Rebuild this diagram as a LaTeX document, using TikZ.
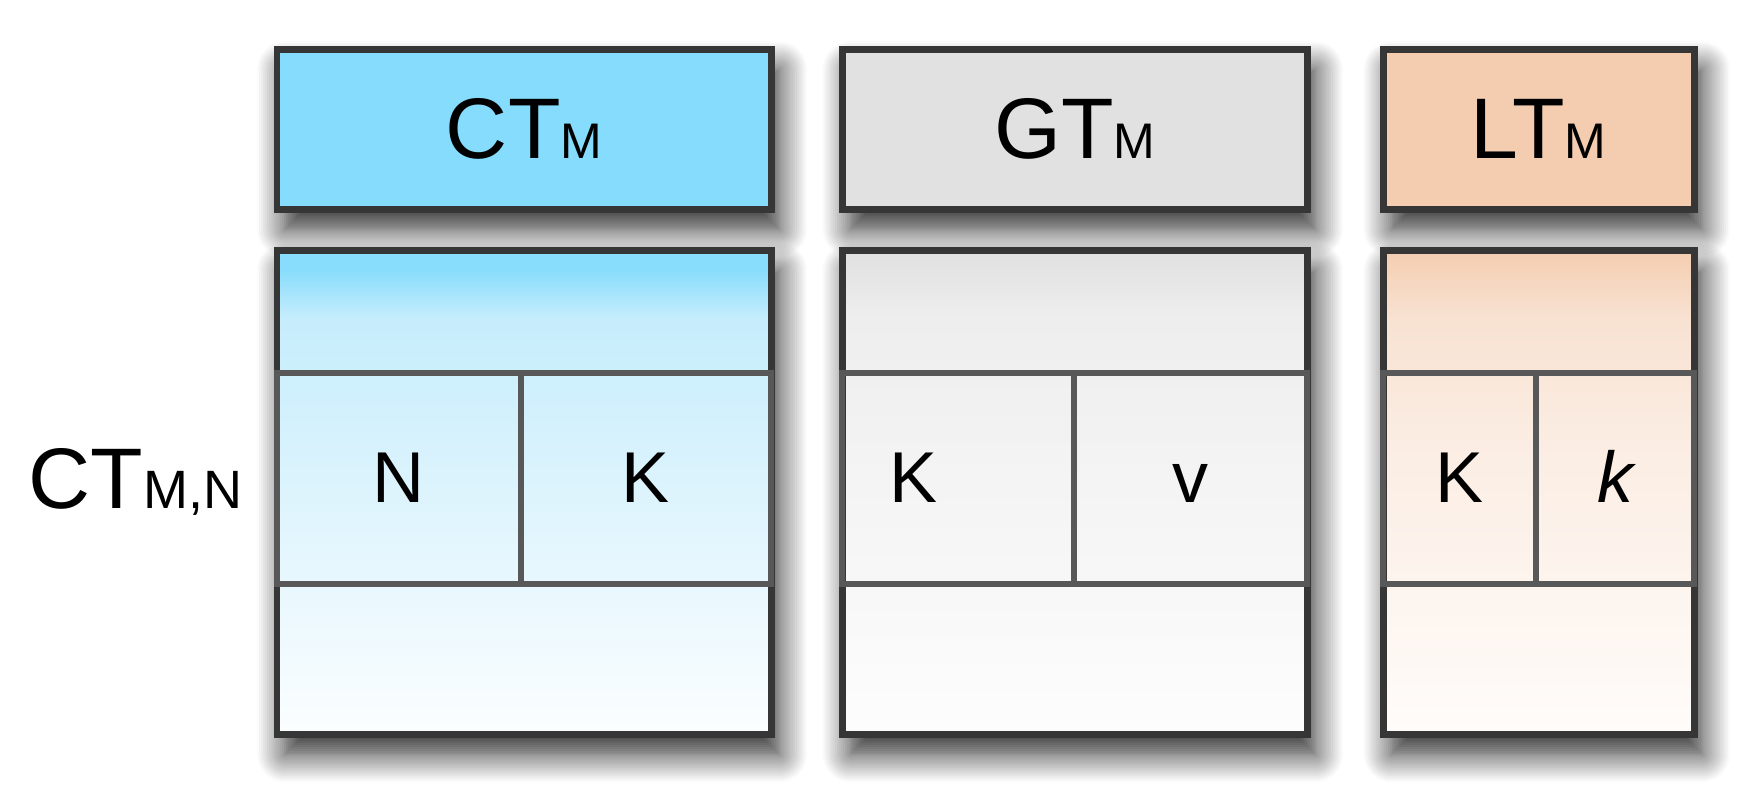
\documentclass[tikz,border=0pt]{standalone}
\usepackage{fontspec}
\setmainfont{Liberation Sans}
\usepackage{tikz}
\usetikzlibrary{shadows.blur}

\definecolor{ctfill}{HTML}{85DCFD}
\definecolor{gtfill}{HTML}{E1E1E1}
\definecolor{ltfill}{HTML}{F4CCAF}
\definecolor{edgegray}{HTML}{363636}
\definecolor{cellgray}{HTML}{585858}

\definecolor{cttop}{HTML}{88DCFC}
\definecolor{ctmid}{HTML}{C6EDFC}
\definecolor{ctlow}{HTML}{E7F7FE}
\definecolor{ctbot}{HTML}{FBFEFF}
\definecolor{gttop}{HTML}{E0E0E0}
\definecolor{gtmid}{HTML}{EEEEEE}
\definecolor{gtbot}{HTML}{FDFDFD}
\definecolor{lttop}{HTML}{F4CDB0}
\definecolor{ltmid}{HTML}{F8E2D2}
\definecolor{ltlow}{HTML}{FBEDE3}
\definecolor{ltbot}{HTML}{FFFCFA}

\pgfdeclareverticalshading{ctbodyshade}{100bp}{color(0bp)=(ctbot); color(25bp)=(ctbot);
  color(42bp)=(ctlow); color(68bp)=(ctmid); color(73bp)=(cttop); color(100bp)=(cttop)}
\pgfdeclareverticalshading{gtbodyshade}{100bp}{color(0bp)=(gtbot); color(25bp)=(gtbot);
  color(68bp)=(gtmid); color(75bp)=(gttop); color(100bp)=(gttop)}
\pgfdeclareverticalshading{ltbodyshade}{100bp}{color(0bp)=(ltbot); color(25bp)=(ltbot);
  color(55bp)=(ltlow); color(68bp)=(ltmid); color(75bp)=(lttop); color(100bp)=(lttop)}

\tikzset{
  box/.style={draw=edgegray, line width=3.3pt, inner sep=0pt, anchor=north west,
    blur shadow={shadow xshift=4pt, shadow yshift=-10pt, shadow blur radius=14pt,
      shadow blur steps=14, shadow opacity=85}},
  header/.style={box, minimum height=80pt, font=\fontsize{43}{50}\selectfont},
  body/.style={box, minimum height=242pt},
  cell/.style={draw=cellgray, line width=3pt, inner sep=0pt, anchor=north west, minimum height=105.5pt},
  celltext/.style={inner sep=0pt, anchor=base, font=\fontsize{36}{42}\selectfont},
}
\newcommand{\sub}[1]{{\fontsize{25}{30}\selectfont #1}}
\newcommand{\lsub}[1]{{\fontsize{27}{32}\selectfont #1}}

\begin{document}
\begin{tikzpicture}[x=0.5pt, y=-0.5pt]
	\useasboundingbox (0,0) rectangle (1742,803);
	% column headers
	\node [header, fill=ctfill, minimum width=247.25pt] (ctM) at (273.5,46) {CT\sub{M}};
	\node [header, fill=gtfill, minimum width=232.5pt] (gtM) at (839,46) {GT\sub{M}};
	\node [header, fill=ltfill, minimum width=155.5pt] (ltM) at (1380,46) {LT\sub{M}};
	% table bodies
	\node [body, shading=ctbodyshade, minimum width=247.25pt] (ctBody) at (273.5,247) {};
	\node [body, shading=gtbodyshade, minimum width=232.5pt] (gtBody) at (839,247) {};
	\node [body, shading=ltbodyshade, minimum width=155.5pt] (ltBody) at (1380,247) {};
	% middle row
	\node [cell, minimum width=122.25pt] (ctN) at (273.5,370) {};
	\node [cell, minimum width=125pt] (ctK) at (518,370) {};
	\node [cell, minimum width=116pt] (gtK) at (839,370) {};
	\node [cell, minimum width=116.5pt] (gtV) at (1071,370) {};
	\node [cell, minimum width=76.5pt] (ltK) at (1380,370) {};
	\node [cell, minimum width=79pt] (ltk) at (1533,370) {};
	% cell texts
	\node [celltext] at ([yshift=-12pt]ctN.center) {N};
	\node [celltext] at ([yshift=-12pt]ctK.center) {K};
	\node [celltext] at ([xshift=-22pt, yshift=-12pt]gtK.center) {K};
	\node [celltext] at ([yshift=-12pt]gtV.center) {v};
	\node [celltext] at ([yshift=-12pt]ltK.center) {K};
	\node [celltext] at ([yshift=-12pt]ltk.center) {\itshape k};
	% row label
	\node [inner sep=0pt, anchor=base west, font=\fontsize{43}{50}\selectfont] (ctMN) at (28,508) {CT\lsub{M,N}};
\end{tikzpicture}
\end{document}
